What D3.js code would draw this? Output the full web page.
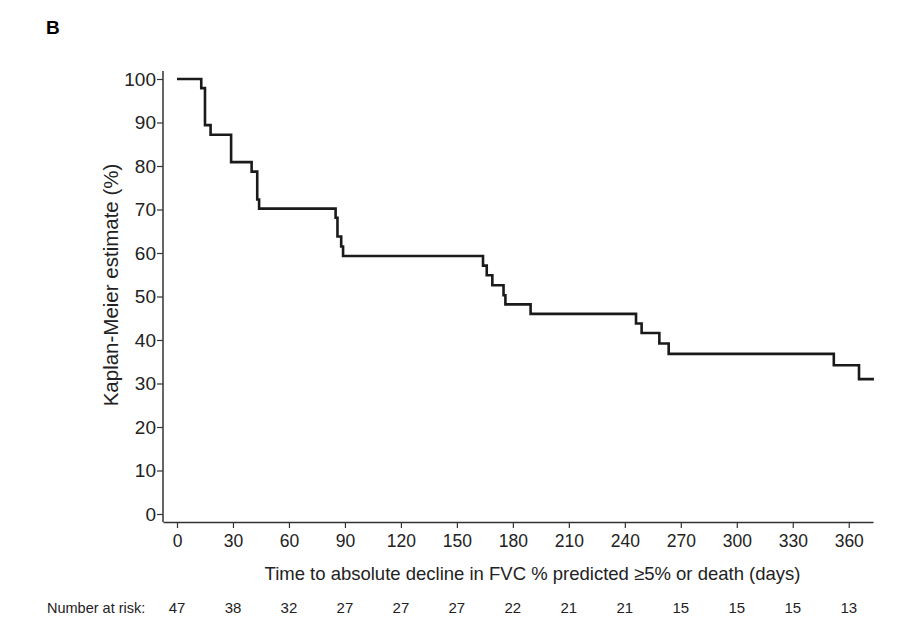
<!DOCTYPE html>
<html><head><meta charset="utf-8">
<script src="https://cdn.jsdelivr.net/npm/d3@7"></script>
<style>body{margin:0;background:#fff;} text{font-family:"Liberation Sans",Arial,sans-serif;}</style>
</head><body>
<svg id="c" width="924" height="626"></svg>
<script>
const times = [0, 13, 15, 18, 29, 40, 43, 44, 85, 86, 88, 89, 164, 166, 169, 175, 176, 189.5, 246, 249, 258.5, 263.5, 352, 365.5];
const survival = [100, 97.9, 89.4, 87.2, 80.9, 78.7, 72.3, 70.2, 68.1, 63.8, 61.5, 59.3, 57.1, 54.9, 52.6, 50.3, 48.2, 46.0, 43.8, 41.6, 39.2, 36.8, 34.2, 31.0];
const endTime = 373.5;
const xTicks = [0,30,60,90,120,150,180,210,240,270,300,330,360];
const yTicks = [0,10,20,30,40,50,60,70,80,90,100];
const atRisk = [47,38,32,27,27,27,22,21,21,15,15,15,13];

const svg = d3.select("#c");
const x = d3.scaleLinear().domain([-7.5, 373]).range([163, 873]);
const y = d3.scaleLinear().domain([0, 100]).range([514, 79]);
const axisColor = "#333";

const gx = svg.append("g").attr("transform","translate(0,522)")
  .call(d3.axisBottom(x).tickValues(xTicks).tickSize(6).tickPadding(7).tickSizeOuter(0));
const gy = svg.append("g").attr("transform","translate(163,0)")
  .call(d3.axisLeft(y).tickValues(yTicks).tickSize(6).tickPadding(1).tickSizeOuter(0));
gy.select(".domain").attr("d","M0,522V71");
[gx,gy].forEach(g=>{
  g.select(".domain").attr("stroke",axisColor).attr("stroke-width",1.5);
  g.selectAll(".tick line").attr("stroke",axisColor).attr("stroke-width",1.2);
  g.selectAll(".tick text").attr("fill","#222").style("font-family","Liberation Sans, Arial, sans-serif");
});
gx.selectAll(".tick text").style("font-size","17.5px");
gy.selectAll(".tick text").style("font-size","19px");

const pts = times.map((t,i)=>[t,survival[i]]);
pts.push([endTime, survival[survival.length-1]]);
svg.append("path").datum(pts)
  .attr("d", d3.line().x(d=>x(d[0])).y(d=>y(d[1])).curve(d3.curveStepAfter))
  .attr("fill","none").attr("stroke","#1a1a1a").attr("stroke-width",2.6);

svg.append("text").attr("x",532.5).attr("y",580).attr("text-anchor","middle")
  .style("font-size","18.5px").attr("fill","#222")
  .text("Time to absolute decline in FVC % predicted \u22655% or death (days)");
svg.append("text").attr("transform","translate(118,285) rotate(-90)").attr("text-anchor","middle")
  .style("font-size","20.5px").attr("fill","#222").text("Kaplan-Meier estimate (%)");

svg.append("text").attr("x",47).attr("y",613).style("font-size","14.5px").attr("fill","#222").text("Number at risk:");
svg.selectAll(".risk").data(atRisk).enter().append("text")
  .attr("x",(d,i)=>x(xTicks[i])).attr("y",613).attr("text-anchor","middle")
  .style("font-size","15px").attr("fill","#222").text(d=>d);

svg.append("text").attr("x",46).attr("y",34).style("font-size","19px").style("font-weight","bold").attr("fill","#000").text("B");
</script>
</body></html>
